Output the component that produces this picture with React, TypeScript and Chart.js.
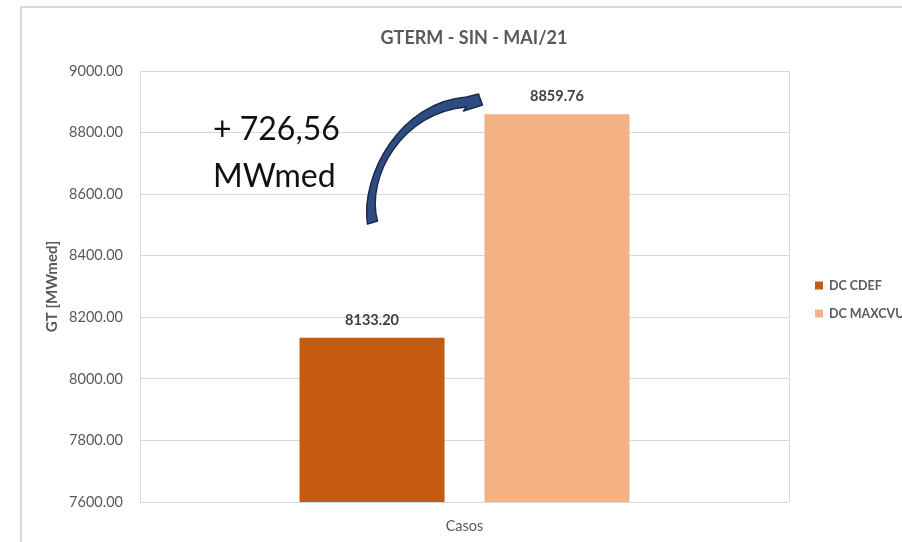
import React, { useEffect, useRef } from 'react';
import { Chart, registerables } from 'chart.js';

Chart.register(...registerables);

const categories: string[] = ['Casos'];
const seriesNames: string[] = ['DC CDEF', 'DC MAXCVU'];
const cdefValues: number[] = [8133.2];
const maxcvuValues: number[] = [8859.76];
const seriesColors: string[] = ['#C55A11', '#F4B183'];
const yTickValues: number[] = [7600, 7800, 8000, 8200, 8400, 8600, 8800, 9000];
const chartTitle = 'GTERM - SIN - MAI/21';
const yAxisTitle = 'GT [MWmed]';
const deltaUnit = 'MWmed';

const FONT = 'Lato, "Open Sans", sans-serif';

const decorPlugin = {
  id: 'decor',
  afterDatasetsDraw(chart: any) {
    const { ctx } = chart;
    ctx.save();
    ctx.font = `bold 14.5px ${FONT}`;
    ctx.fillStyle = '#404040';
    ctx.textAlign = 'center';
    ctx.textBaseline = 'middle';
    chart.data.datasets.forEach((ds: any, i: number) => {
      const meta = chart.getDatasetMeta(i);
      meta.data.forEach((bar: any, j: number) => {
        ctx.fillText(Number(ds.data[j]).toFixed(2), bar.x, bar.y - 18);
      });
    });
    ctx.restore();
  },
  afterDraw(chart: any) {
    const { ctx, chartArea: ca } = chart;
    ctx.save();
    // plot-area right border
    ctx.strokeStyle = '#d9d9d9';
    ctx.lineWidth = 1;
    ctx.beginPath();
    ctx.moveTo(Math.round(ca.right) + 0.5, ca.top);
    ctx.lineTo(Math.round(ca.right) + 0.5, ca.bottom);
    ctx.stroke();

    // title
    ctx.font = `bold 18px ${FONT}`;
    ctx.fillStyle = '#595959';
    ctx.textAlign = 'center';
    ctx.textBaseline = 'middle';
    ctx.fillText(chartTitle, chart.width / 2, ca.top - 33);

    // legend
    const midY = (ca.top + ca.bottom) / 2 - 1;
    ctx.font = `bold 12.5px ${FONT}`;
    ctx.textAlign = 'left';
    chart.data.datasets.forEach((ds: any, i: number) => {
      const cy = midY + i * 28;
      ctx.fillStyle = ds.backgroundColor;
      ctx.fillRect(ca.right + 26, cy - 4, 8, 8);
      ctx.fillStyle = '#595959';
      ctx.fillText(ds.label, ca.right + 40, cy + 0.5);
    });

    // annotation text
    const v1 = chart.data.datasets[0].data[0];
    const v2 = chart.data.datasets[1].data[0];
    const diffText = '+ ' + (v2 - v1).toFixed(2).replace('.', ',');
    ctx.font = `32px ${FONT}`;
    ctx.fillStyle = '#111111';
    ctx.textBaseline = 'alphabetic';
    ctx.fillText(diffText, ca.left + 73, ca.top + 69);
    ctx.fillText(deltaUnit, ca.left + 73, ca.top + 116);

    // curved arrow anchored to the second bar's left edge
    const bar2 = chart.getDatasetMeta(1).data[0];
    const ax = bar2.x - bar2.width / 2;
    const ay = ca.top;
    const P = (dx: number, dy: number): [number, number] => [ax + dx, ay + dy];
    ctx.beginPath();
    ctx.moveTo(...P(-117, 153));
    ctx.bezierCurveTo(...P(-124, 104), ...P(-84, 31), ...P(-18, 26));
    ctx.lineTo(...P(-6, 23));
    ctx.lineTo(...P(-2, 34));
    ctx.lineTo(...P(-21, 40));
    ctx.lineTo(...P(-18, 36));
    ctx.bezierCurveTo(...P(-82, 41), ...P(-119, 106), ...P(-107, 150));
    ctx.closePath();
    ctx.fillStyle = '#2F4C82';
    ctx.fill();
    ctx.strokeStyle = '#1C2B4D';
    ctx.lineWidth = 1.5;
    ctx.lineJoin = 'round';
    ctx.stroke();
    ctx.restore();
  },
};

export default function App() {
  const ref = useRef<HTMLCanvasElement>(null);
  useEffect(() => {
    if (!ref.current) return;
    const allValues = [cdefValues, maxcvuValues];
    const chart = new Chart(ref.current, {
      type: 'bar',
      data: {
        labels: categories,
        datasets: seriesNames.map((name, i) => ({
          label: name,
          data: allValues[i],
          backgroundColor: seriesColors[i],
          categoryPercentage: 0.57,
          barPercentage: 0.784,
        })),
      },
      options: {
        responsive: false,
        animation: false,
        font: { family: FONT },
        layout: { padding: { top: 63, right: 137, left: 0, bottom: 0 } },
        plugins: {
          legend: { display: false },
          title: { display: false },
          tooltip: { enabled: false },
        },
        scales: {
          x: {
            grid: { display: false },
            border: { display: false },
            ticks: { color: '#595959', font: { family: FONT, size: 14.5 }, padding: 8 },
            afterFit: (s: any) => { s.height = 40; },
          },
          y: {
            min: yTickValues[0],
            max: yTickValues[yTickValues.length - 1],
            ticks: {
              stepSize: yTickValues[1] - yTickValues[0],
              color: '#595959',
              font: { family: FONT, size: 14.5 },
              padding: 17,
              callback: (v: any) => Number(v).toFixed(2),
            },
            grid: { color: '#d9d9d9', drawTicks: false },
            border: { color: '#d9d9d9' },
            title: {
              display: true,
              text: yAxisTitle,
              color: '#595959',
              font: { family: FONT, size: 15, weight: 'bold' },
              padding: { top: 21, bottom: 0 },
            },
            afterFit: (s: any) => { s.width = 118; },
          },
        },
      } as any,
      plugins: [decorPlugin],
    });
    return () => chart.destroy();
  }, []);

  return (
    <div
      style={{
        position: 'absolute',
        left: 20,
        top: 6,
        width: 882,
        height: 536,
        borderLeft: '2px solid #d9d9d9',
        borderTop: '2px solid #d9d9d9',
        overflow: 'hidden',
        boxSizing: 'border-box',
      }}
    >
      <canvas ref={ref} width={904} height={534} style={{ display: 'block' }} />
    </div>
  );
}
